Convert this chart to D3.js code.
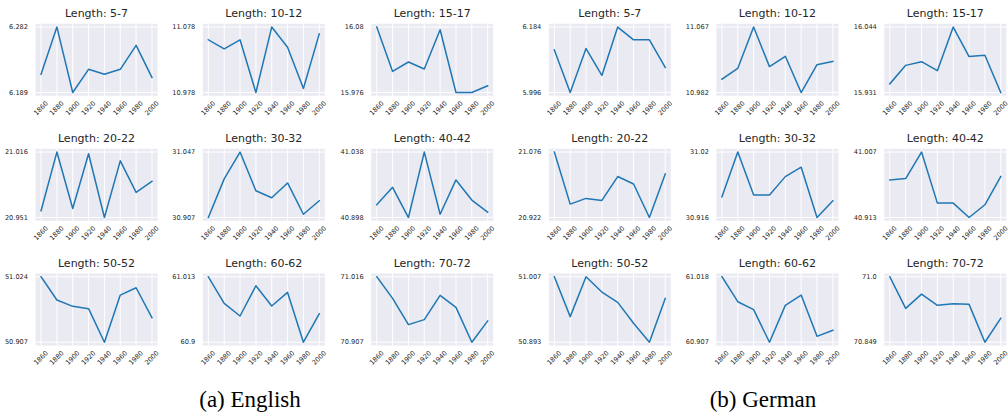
<!DOCTYPE html>
<html>
<head>
<meta charset="utf-8">
<script src="https://cdn.jsdelivr.net/npm/d3@7"></script>
<style>
  html, body { margin: 0; padding: 0; background: #ffffff; }
  svg { display: block; }
</style>
</head>
<body>
<svg id="chart" width="1008" height="420"></svg>
<script>
// ---------------- DATA ----------------
const years = [1860, 1880, 1900, 1920, 1940, 1960, 1980, 2000];
const xTickLabels = ["1860", "1880", "1900", "1920", "1940", "1960", "1980", "2000"];
const panelTitles = ["Length: 5-7", "Length: 10-12", "Length: 15-17",
                     "Length: 20-22", "Length: 30-32", "Length: 40-42",
                     "Length: 50-52", "Length: 60-62", "Length: 70-72"];

const englishValues = [
  [6.215, 6.282, 6.189, 6.222, 6.215, 6.222, 6.256, 6.2105],
  [11.0585, 11.0447, 11.0585, 10.978, 11.078, 11.0472, 10.9842, 11.0677],
  [16.08, 16.0096, 16.0245, 16.0133, 16.0757, 15.976, 15.976, 15.9867],
  [20.9577, 21.016, 20.960, 21.0143, 20.951, 21.0073, 20.976, 20.987],
  [30.907, 30.9896, 31.047, 30.9644, 30.9494, 30.981, 30.914, 30.943],
  [40.9253, 40.9627, 40.898, 41.038, 40.905, 40.9784, 40.9353, 40.9095],
  [51.024, 50.9824, 50.9711, 50.967, 50.907, 50.9913, 51.0044, 50.951],
  [61.013, 60.9671, 60.9453, 60.9975, 60.9625, 60.986, 60.9, 60.9493],
  [71.016, 70.98, 70.9363, 70.9446, 70.985, 70.965, 70.907, 70.9424]
];
const englishYTicks = [
  ["6.189", "6.282"], ["10.978", "11.078"], ["15.976", "16.08"],
  ["20.951", "21.016"], ["30.907", "31.047"], ["40.898", "41.038"],
  ["50.907", "51.024"], ["60.9", "61.013"], ["70.907", "71.016"]
];

const germanValues = [
  [6.1184, 5.996, 6.1223, 6.0452, 6.184, 6.1474, 6.1474, 6.0683],
  [10.9994, 11.0134, 11.067, 11.0156, 11.0291, 10.982, 11.0182, 11.0225],
  [15.946, 15.9779, 15.9843, 15.9687, 16.044, 15.993, 15.9953, 15.931],
  [21.076, 20.9536, 20.967, 20.9623, 21.0184, 21.001, 20.922, 21.0247],
  [30.949, 31.02, 30.9517, 30.9517, 30.981, 30.996, 30.916, 30.9427],
  [40.967, 40.9689, 41.007, 40.9337, 40.9337, 40.913, 40.9313, 40.9718],
  [51.007, 50.9376, 51.007, 50.9804, 50.9624, 50.926, 50.893, 50.9694],
  [61.018, 60.9757, 60.9622, 60.907, 60.9695, 60.987, 60.917, 60.9273],
  [71.0, 70.9272, 70.9601, 70.9341, 70.9379, 70.9364, 70.849, 70.9042]
];
const germanYTicks = [
  ["5.996", "6.184"], ["10.982", "11.067"], ["15.931", "16.044"],
  ["20.922", "21.076"], ["30.916", "31.02"], ["40.913", "41.007"],
  ["50.893", "51.007"], ["60.907", "61.018"], ["70.849", "71.0"]
];

const captions = ["(a) English", "(b) German"];

// ---------------- LAYOUT ----------------
const svg = d3.select("#chart");
const W = 122, H = 72;
const colLeft = [[35.5, 202.8, 371.2], [548.8, 716.4, 884.3]];
const rowTop = [23.8, 148.8, 273.5];
const captionX = [250, 763];
const captionY = 407;

const textColor = "#262626";
const bgColor = "#EAEAF2";
const lineColor = "#1f77b4";
const fontSans = "'DejaVu Sans', sans-serif";

const groups = [
  { values: englishValues, ticks: englishYTicks },
  { values: germanValues, ticks: germanYTicks }
];

function padExtent(arr) {
  const lo = d3.min(arr), hi = d3.max(arr);
  const r = hi - lo;
  return [lo - 0.05 * r, hi + 0.05 * r];
}

groups.forEach((grp, gi) => {
  grp.values.forEach((vals, pi) => {
    const col = pi % 3, row = Math.floor(pi / 3);
    const left = colLeft[gi][col], top = rowTop[row];
    const g = svg.append("g").attr("transform", `translate(${left},${top})`);

    const x = d3.scaleLinear().domain(padExtent(years)).range([0, W]);
    const y = d3.scaleLinear().domain(padExtent(vals)).range([H, 0]);
    const yTickVals = [d3.min(vals), d3.max(vals)];

    g.append("rect").attr("width", W).attr("height", H).attr("fill", bgColor);

    // vertical grid
    g.selectAll("line.vg").data(years).enter().append("line")
      .attr("x1", d => x(d)).attr("x2", d => x(d))
      .attr("y1", 0).attr("y2", H)
      .attr("stroke", "#ffffff").attr("stroke-width", 1);
    // horizontal grid
    g.selectAll("line.hg").data(yTickVals).enter().append("line")
      .attr("x1", 0).attr("x2", W)
      .attr("y1", d => y(d)).attr("y2", d => y(d))
      .attr("stroke", "#ffffff").attr("stroke-width", 1);

    // line
    const line = d3.line().x((d, i) => x(years[i])).y(d => y(d));
    g.append("path").datum(vals)
      .attr("d", line)
      .attr("fill", "none")
      .attr("stroke", lineColor)
      .attr("stroke-width", 1.5)
      .attr("stroke-linejoin", "round")
      .attr("stroke-linecap", "square");

    // y tick labels
    g.selectAll("text.yt").data(yTickVals).enter().append("text")
      .attr("x", -7.5).attr("y", d => y(d))
      .attr("text-anchor", "end")
      .attr("dominant-baseline", "central")
      .attr("font-family", fontSans).attr("font-size", 6.6)
      .attr("fill", textColor)
      .text((d, i) => grp.ticks[pi][i]);

    // x tick labels
    g.selectAll("text.xt").data(years).enter().append("text")
      .attr("transform", (d, i) => `translate(${x(d)},${H + 12.5}) rotate(-45)`)
      .attr("text-anchor", "middle")
      .attr("dominant-baseline", "central")
      .attr("font-family", fontSans).attr("font-size", 6.6)
      .attr("fill", textColor)
      .text((d, i) => xTickLabels[i]);

    // title
    g.append("text")
      .attr("x", W / 2).attr("y", -6.5)
      .attr("text-anchor", "middle")
      .attr("font-family", fontSans).attr("font-size", 11)
      .attr("fill", textColor)
      .text(panelTitles[pi]);
  });

  svg.append("text")
    .attr("x", captionX[gi]).attr("y", captionY)
    .attr("text-anchor", "middle")
    .attr("font-family", "'Liberation Serif', 'Times New Roman', serif")
    .attr("font-size", 23)
    .attr("fill", "#000000")
    .text(captions[gi]);
});
</script>
</body>
</html>
